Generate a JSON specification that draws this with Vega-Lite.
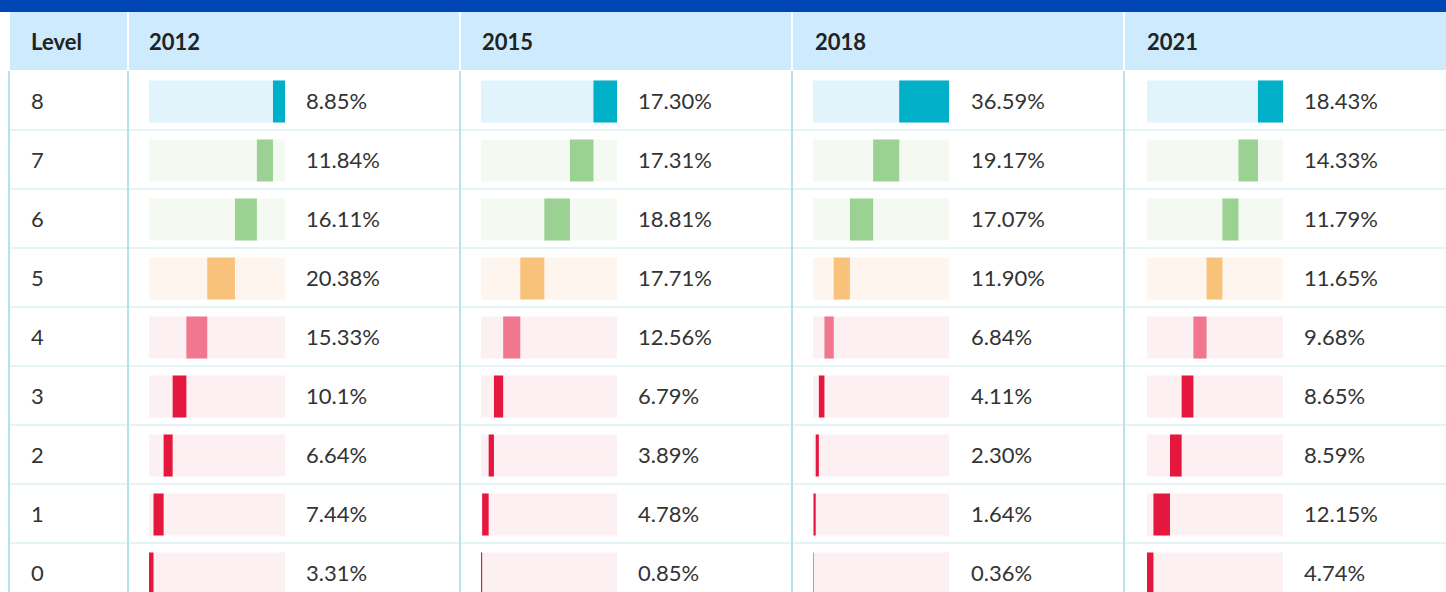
{
  "$schema": "https://vega.github.io/schema/vega-lite/v6.json",
  "padding": 0,
  "spacing": 0,
  "background": "white",
  "config": {
    "view": {"stroke": null},
    "concat": {"spacing": 0},
    "font": "Lato",
    "text": {"font": "Lato"}
  },
  "datasets": {
    "levels": [
      {"year": "2012", "level": 8, "value": 8.85, "label": "8.85%"},
      {"year": "2012", "level": 7, "value": 11.84, "label": "11.84%"},
      {"year": "2012", "level": 6, "value": 16.11, "label": "16.11%"},
      {"year": "2012", "level": 5, "value": 20.38, "label": "20.38%"},
      {"year": "2012", "level": 4, "value": 15.33, "label": "15.33%"},
      {"year": "2012", "level": 3, "value": 10.1, "label": "10.1%"},
      {"year": "2012", "level": 2, "value": 6.64, "label": "6.64%"},
      {"year": "2012", "level": 1, "value": 7.44, "label": "7.44%"},
      {"year": "2012", "level": 0, "value": 3.31, "label": "3.31%"},
      {"year": "2015", "level": 8, "value": 17.30, "label": "17.30%"},
      {"year": "2015", "level": 7, "value": 17.31, "label": "17.31%"},
      {"year": "2015", "level": 6, "value": 18.81, "label": "18.81%"},
      {"year": "2015", "level": 5, "value": 17.71, "label": "17.71%"},
      {"year": "2015", "level": 4, "value": 12.56, "label": "12.56%"},
      {"year": "2015", "level": 3, "value": 6.79, "label": "6.79%"},
      {"year": "2015", "level": 2, "value": 3.89, "label": "3.89%"},
      {"year": "2015", "level": 1, "value": 4.78, "label": "4.78%"},
      {"year": "2015", "level": 0, "value": 0.85, "label": "0.85%"},
      {"year": "2018", "level": 8, "value": 36.59, "label": "36.59%"},
      {"year": "2018", "level": 7, "value": 19.17, "label": "19.17%"},
      {"year": "2018", "level": 6, "value": 17.07, "label": "17.07%"},
      {"year": "2018", "level": 5, "value": 11.90, "label": "11.90%"},
      {"year": "2018", "level": 4, "value": 6.84, "label": "6.84%"},
      {"year": "2018", "level": 3, "value": 4.11, "label": "4.11%"},
      {"year": "2018", "level": 2, "value": 2.30, "label": "2.30%"},
      {"year": "2018", "level": 1, "value": 1.64, "label": "1.64%"},
      {"year": "2018", "level": 0, "value": 0.36, "label": "0.36%"},
      {"year": "2021", "level": 8, "value": 18.43, "label": "18.43%"},
      {"year": "2021", "level": 7, "value": 14.33, "label": "14.33%"},
      {"year": "2021", "level": 6, "value": 11.79, "label": "11.79%"},
      {"year": "2021", "level": 5, "value": 11.65, "label": "11.65%"},
      {"year": "2021", "level": 4, "value": 9.68, "label": "9.68%"},
      {"year": "2021", "level": 3, "value": 8.65, "label": "8.65%"},
      {"year": "2021", "level": 2, "value": 8.59, "label": "8.59%"},
      {"year": "2021", "level": 1, "value": 12.15, "label": "12.15%"},
      {"year": "2021", "level": 0, "value": 4.74, "label": "4.74%"}
    ],
    "one": [{"k": 1}]
  },
  "vconcat": [
    {
      "data": {"name": "one"},
      "width": 1446,
      "height": 12,
      "view": {"fill": "#0047b5", "stroke": null},
      "mark": {"type": "text"},
      "encoding": {"text": {"value": ""}}
    },
    {
      "spacing": 2,
      "bounds": "flush",
      "hconcat": [
        {"data": {"name": "one"}, "width": 8, "height": 58, "mark": {"type": "text"}, "encoding": {"text": {"value": ""}}},
        {
          "data": {"values": [{"h": "Level"}]},
          "width": 117, "height": 58,
          "view": {"fill": "#cdebfc", "stroke": null},
          "mark": {"type": "text", "align": "left", "baseline": "middle", "fontSize": 22, "fontWeight": "bold", "color": "#222222", "dy": 2},
          "encoding": {"x": {"datum": 0.18, "scale": {"domain": [0, 1], "nice": false, "zero": false}, "axis": null}, "text": {"field": "h"}}
        },
        {
          "data": {"values": [{"h": "2012"}]},
          "width": 330, "height": 58,
          "view": {"fill": "#cdebfc", "stroke": null},
          "mark": {"type": "text", "align": "left", "baseline": "middle", "fontSize": 22, "fontWeight": "bold", "color": "#222222", "dy": 2},
          "encoding": {"x": {"datum": 0.0606, "scale": {"domain": [0, 1], "nice": false, "zero": false}, "axis": null}, "text": {"field": "h"}}
        },
        {
          "data": {"values": [{"h": "2015"}]},
          "width": 330, "height": 58,
          "view": {"fill": "#cdebfc", "stroke": null},
          "mark": {"type": "text", "align": "left", "baseline": "middle", "fontSize": 22, "fontWeight": "bold", "color": "#222222", "dy": 2},
          "encoding": {"x": {"datum": 0.0636, "scale": {"domain": [0, 1], "nice": false, "zero": false}, "axis": null}, "text": {"field": "h"}}
        },
        {
          "data": {"values": [{"h": "2018"}]},
          "width": 330, "height": 58,
          "view": {"fill": "#cdebfc", "stroke": null},
          "mark": {"type": "text", "align": "left", "baseline": "middle", "fontSize": 22, "fontWeight": "bold", "color": "#222222", "dy": 2},
          "encoding": {"x": {"datum": 0.0667, "scale": {"domain": [0, 1], "nice": false, "zero": false}, "axis": null}, "text": {"field": "h"}}
        },
        {
          "data": {"values": [{"h": "2021"}]},
          "width": 321, "height": 58,
          "view": {"fill": "#cdebfc", "stroke": null},
          "mark": {"type": "text", "align": "left", "baseline": "middle", "fontSize": 22, "fontWeight": "bold", "color": "#222222", "dy": 2},
          "encoding": {"x": {"datum": 0.0685, "scale": {"domain": [0, 1], "nice": false, "zero": false}, "axis": null}, "text": {"field": "h"}}
        }
      ]
    },
    {
      "spacing": 0,
      "bounds": "flush",
      "data": {"name": "levels"},
      "transform": [
        {"stack": "value", "groupby": ["year"], "sort": [{"field": "level", "order": "ascending"}], "as": ["start", "end"]}
      ],
      "hconcat": [
        {"data": {"name": "one"}, "width": 9, "height": 522, "mark": {"type": "text"}, "encoding": {"text": {"value": ""}}},
        {
          "width": 119, "height": 522,
          "transform": [{"filter": "datum.year == '2012'"}],
          "layer": [
            {"mark": {"type": "rule", "color": "#e4f3f6", "strokeWidth": 2, "clip": true},
             "encoding": {"y": {"field": "level", "type": "ordinal", "sort": "descending", "bandPosition": 1, "axis": null, "scale": {"range": [0, 531], "paddingInner": 0, "paddingOuter": 0}}}},
            {"transform": [{"filter": "datum.level == 8"}],
             "mark": {"type": "rule", "color": "#b6e2ec", "strokeWidth": 2},
             "encoding": {"x": {"datum": 0, "scale": {"domain": [0, 1], "nice": false, "zero": false}, "axis": null}}},
            {"mark": {"type": "text", "align": "left", "baseline": "middle", "fontSize": 22, "color": "#333333", "dy": 1},
             "encoding": {
               "x": {"datum": 0.185, "scale": {"domain": [0, 1], "nice": false, "zero": false}, "axis": null},
               "y": {"field": "level", "type": "ordinal", "sort": "descending", "axis": null, "scale": {"range": [0, 531], "paddingInner": 0, "paddingOuter": 0}},
               "text": {"field": "level", "type": "nominal"}}}
          ]
        },
        {
          "width": 332, "height": 522,
          "transform": [{"filter": "datum.year == '2012'"}],
          "layer": [
            {"mark": {"type": "rule", "color": "#e4f3f6", "strokeWidth": 2, "clip": true},
             "encoding": {"y": {"field": "level", "type": "ordinal", "sort": "descending", "bandPosition": 1, "axis": null, "scale": {"range": [0, 531], "paddingInner": 0, "paddingOuter": 0}}}},
            {"transform": [{"filter": "datum.level == 8"}],
             "mark": {"type": "rule", "color": "#b6e2ec", "strokeWidth": 2},
             "encoding": {"x": {"datum": -15.441, "scale": {"domain": [-15.441, 228.676], "nice": false, "zero": false}, "axis": null}}},
            {"mark": {"type": "bar", "height": {"band": 0.712}, "yOffset": 1, "clip": true},
             "encoding": {
               "y": {"field": "level", "type": "ordinal", "sort": "descending", "axis": null, "scale": {"range": [0, 531], "paddingInner": 0, "paddingOuter": 0}},
               "x": {"datum": 0, "scale": {"domain": [-15.441, 228.676], "nice": false, "zero": false}, "axis": null},
               "x2": {"datum": 100},
               "fill": {"field": "level", "type": "nominal", "legend": null, "scale": {"domain": [8, 7, 6, 5, 4, 3, 2, 1, 0], "range": ["#e1f4fb", "#f4f9f1", "#f4f9f1", "#fef6ee", "#fcf0f3", "#fcf0f3", "#fcf0f3", "#fcf0f3", "#fcf0f3"]}}}},
            {"mark": {"type": "bar", "height": {"band": 0.712}, "yOffset": 1, "clip": true},
             "encoding": {
               "y": {"field": "level", "type": "ordinal", "sort": "descending", "axis": null, "scale": {"range": [0, 531], "paddingInner": 0, "paddingOuter": 0}},
               "x": {"field": "start", "type": "quantitative", "scale": {"domain": [-15.441, 228.676], "nice": false, "zero": false}, "axis": null},
               "x2": {"field": "end"},
               "color": {"field": "level", "type": "nominal", "legend": null, "scale": {"domain": [8, 7, 6, 5, 4, 3, 2, 1, 0], "range": ["#00b0c9", "#9bd294", "#9bd294", "#f9c27a", "#f0778f", "#e6173f", "#e6173f", "#e6173f", "#e6173f"]}}}},
            {"mark": {"type": "text", "align": "left", "baseline": "middle", "fontSize": 22, "color": "#333333", "dy": 1},
             "encoding": {
               "x": {"datum": 115.44, "scale": {"domain": [-15.441, 228.676], "nice": false, "zero": false}, "axis": null},
               "y": {"field": "level", "type": "ordinal", "sort": "descending", "axis": null, "scale": {"range": [0, 531], "paddingInner": 0, "paddingOuter": 0}},
               "text": {"field": "label"}}}
          ]
        },
        {
          "width": 332, "height": 522,
          "transform": [{"filter": "datum.year == '2015'"}],
          "layer": [
            {"mark": {"type": "rule", "color": "#e4f3f6", "strokeWidth": 2, "clip": true},
             "encoding": {"y": {"field": "level", "type": "ordinal", "sort": "descending", "bandPosition": 1, "axis": null, "scale": {"range": [0, 531], "paddingInner": 0, "paddingOuter": 0}}}},
            {"transform": [{"filter": "datum.level == 8"}],
             "mark": {"type": "rule", "color": "#b6e2ec", "strokeWidth": 2},
             "encoding": {"x": {"datum": -15.441, "scale": {"domain": [-15.441, 228.676], "nice": false, "zero": false}, "axis": null}}},
            {"mark": {"type": "bar", "height": {"band": 0.712}, "yOffset": 1, "clip": true},
             "encoding": {
               "y": {"field": "level", "type": "ordinal", "sort": "descending", "axis": null, "scale": {"range": [0, 531], "paddingInner": 0, "paddingOuter": 0}},
               "x": {"datum": 0, "scale": {"domain": [-15.441, 228.676], "nice": false, "zero": false}, "axis": null},
               "x2": {"datum": 100},
               "fill": {"field": "level", "type": "nominal", "legend": null, "scale": {"domain": [8, 7, 6, 5, 4, 3, 2, 1, 0], "range": ["#e1f4fb", "#f4f9f1", "#f4f9f1", "#fef6ee", "#fcf0f3", "#fcf0f3", "#fcf0f3", "#fcf0f3", "#fcf0f3"]}}}},
            {"mark": {"type": "bar", "height": {"band": 0.712}, "yOffset": 1, "clip": true},
             "encoding": {
               "y": {"field": "level", "type": "ordinal", "sort": "descending", "axis": null, "scale": {"range": [0, 531], "paddingInner": 0, "paddingOuter": 0}},
               "x": {"field": "start", "type": "quantitative", "scale": {"domain": [-15.441, 228.676], "nice": false, "zero": false}, "axis": null},
               "x2": {"field": "end"},
               "color": {"field": "level", "type": "nominal", "legend": null, "scale": {"domain": [8, 7, 6, 5, 4, 3, 2, 1, 0], "range": ["#00b0c9", "#9bd294", "#9bd294", "#f9c27a", "#f0778f", "#e6173f", "#e6173f", "#e6173f", "#e6173f"]}}}},
            {"mark": {"type": "text", "align": "left", "baseline": "middle", "fontSize": 22, "color": "#333333", "dy": 1},
             "encoding": {
               "x": {"datum": 115.44, "scale": {"domain": [-15.441, 228.676], "nice": false, "zero": false}, "axis": null},
               "y": {"field": "level", "type": "ordinal", "sort": "descending", "axis": null, "scale": {"range": [0, 531], "paddingInner": 0, "paddingOuter": 0}},
               "text": {"field": "label"}}}
          ]
        },
        {
          "width": 332, "height": 522,
          "transform": [{"filter": "datum.year == '2018'"}],
          "layer": [
            {"mark": {"type": "rule", "color": "#e4f3f6", "strokeWidth": 2, "clip": true},
             "encoding": {"y": {"field": "level", "type": "ordinal", "sort": "descending", "bandPosition": 1, "axis": null, "scale": {"range": [0, 531], "paddingInner": 0, "paddingOuter": 0}}}},
            {"transform": [{"filter": "datum.level == 8"}],
             "mark": {"type": "rule", "color": "#b6e2ec", "strokeWidth": 2},
             "encoding": {"x": {"datum": -15.441, "scale": {"domain": [-15.441, 228.676], "nice": false, "zero": false}, "axis": null}}},
            {"mark": {"type": "bar", "height": {"band": 0.712}, "yOffset": 1, "clip": true},
             "encoding": {
               "y": {"field": "level", "type": "ordinal", "sort": "descending", "axis": null, "scale": {"range": [0, 531], "paddingInner": 0, "paddingOuter": 0}},
               "x": {"datum": 0, "scale": {"domain": [-15.441, 228.676], "nice": false, "zero": false}, "axis": null},
               "x2": {"datum": 100},
               "fill": {"field": "level", "type": "nominal", "legend": null, "scale": {"domain": [8, 7, 6, 5, 4, 3, 2, 1, 0], "range": ["#e1f4fb", "#f4f9f1", "#f4f9f1", "#fef6ee", "#fcf0f3", "#fcf0f3", "#fcf0f3", "#fcf0f3", "#fcf0f3"]}}}},
            {"mark": {"type": "bar", "height": {"band": 0.712}, "yOffset": 1, "clip": true},
             "encoding": {
               "y": {"field": "level", "type": "ordinal", "sort": "descending", "axis": null, "scale": {"range": [0, 531], "paddingInner": 0, "paddingOuter": 0}},
               "x": {"field": "start", "type": "quantitative", "scale": {"domain": [-15.441, 228.676], "nice": false, "zero": false}, "axis": null},
               "x2": {"field": "end"},
               "color": {"field": "level", "type": "nominal", "legend": null, "scale": {"domain": [8, 7, 6, 5, 4, 3, 2, 1, 0], "range": ["#00b0c9", "#9bd294", "#9bd294", "#f9c27a", "#f0778f", "#e6173f", "#e6173f", "#e6173f", "#e6173f"]}}}},
            {"mark": {"type": "text", "align": "left", "baseline": "middle", "fontSize": 22, "color": "#333333", "dy": 1},
             "encoding": {
               "x": {"datum": 116.17, "scale": {"domain": [-15.441, 228.676], "nice": false, "zero": false}, "axis": null},
               "y": {"field": "level", "type": "ordinal", "sort": "descending", "axis": null, "scale": {"range": [0, 531], "paddingInner": 0, "paddingOuter": 0}},
               "text": {"field": "label"}}}
          ]
        },
        {
          "width": 322, "height": 522,
          "transform": [{"filter": "datum.year == '2021'"}],
          "layer": [
            {"mark": {"type": "rule", "color": "#e4f3f6", "strokeWidth": 2, "clip": true},
             "encoding": {"y": {"field": "level", "type": "ordinal", "sort": "descending", "bandPosition": 1, "axis": null, "scale": {"range": [0, 531], "paddingInner": 0, "paddingOuter": 0}}}},
            {"transform": [{"filter": "datum.level == 8"}],
             "mark": {"type": "rule", "color": "#b6e2ec", "strokeWidth": 2},
             "encoding": {"x": {"datum": -16.912, "scale": {"domain": [-16.912, 219.853], "nice": false, "zero": false}, "axis": null}}},
            {"mark": {"type": "bar", "height": {"band": 0.712}, "yOffset": 1, "clip": true},
             "encoding": {
               "y": {"field": "level", "type": "ordinal", "sort": "descending", "axis": null, "scale": {"range": [0, 531], "paddingInner": 0, "paddingOuter": 0}},
               "x": {"datum": 0, "scale": {"domain": [-16.912, 219.853], "nice": false, "zero": false}, "axis": null},
               "x2": {"datum": 100},
               "fill": {"field": "level", "type": "nominal", "legend": null, "scale": {"domain": [8, 7, 6, 5, 4, 3, 2, 1, 0], "range": ["#e1f4fb", "#f4f9f1", "#f4f9f1", "#fef6ee", "#fcf0f3", "#fcf0f3", "#fcf0f3", "#fcf0f3", "#fcf0f3"]}}}},
            {"mark": {"type": "bar", "height": {"band": 0.712}, "yOffset": 1, "clip": true},
             "encoding": {
               "y": {"field": "level", "type": "ordinal", "sort": "descending", "axis": null, "scale": {"range": [0, 531], "paddingInner": 0, "paddingOuter": 0}},
               "x": {"field": "start", "type": "quantitative", "scale": {"domain": [-16.912, 219.853], "nice": false, "zero": false}, "axis": null},
               "x2": {"field": "end"},
               "color": {"field": "level", "type": "nominal", "legend": null, "scale": {"domain": [8, 7, 6, 5, 4, 3, 2, 1, 0], "range": ["#00b0c9", "#9bd294", "#9bd294", "#f9c27a", "#f0778f", "#e6173f", "#e6173f", "#e6173f", "#e6173f"]}}}},
            {"mark": {"type": "text", "align": "left", "baseline": "middle", "fontSize": 22, "color": "#333333", "dy": 1},
             "encoding": {
               "x": {"datum": 115.44, "scale": {"domain": [-16.912, 219.853], "nice": false, "zero": false}, "axis": null},
               "y": {"field": "level", "type": "ordinal", "sort": "descending", "axis": null, "scale": {"range": [0, 531], "paddingInner": 0, "paddingOuter": 0}},
               "text": {"field": "label"}}}
          ]
        }
      ]
    }
  ]
}
